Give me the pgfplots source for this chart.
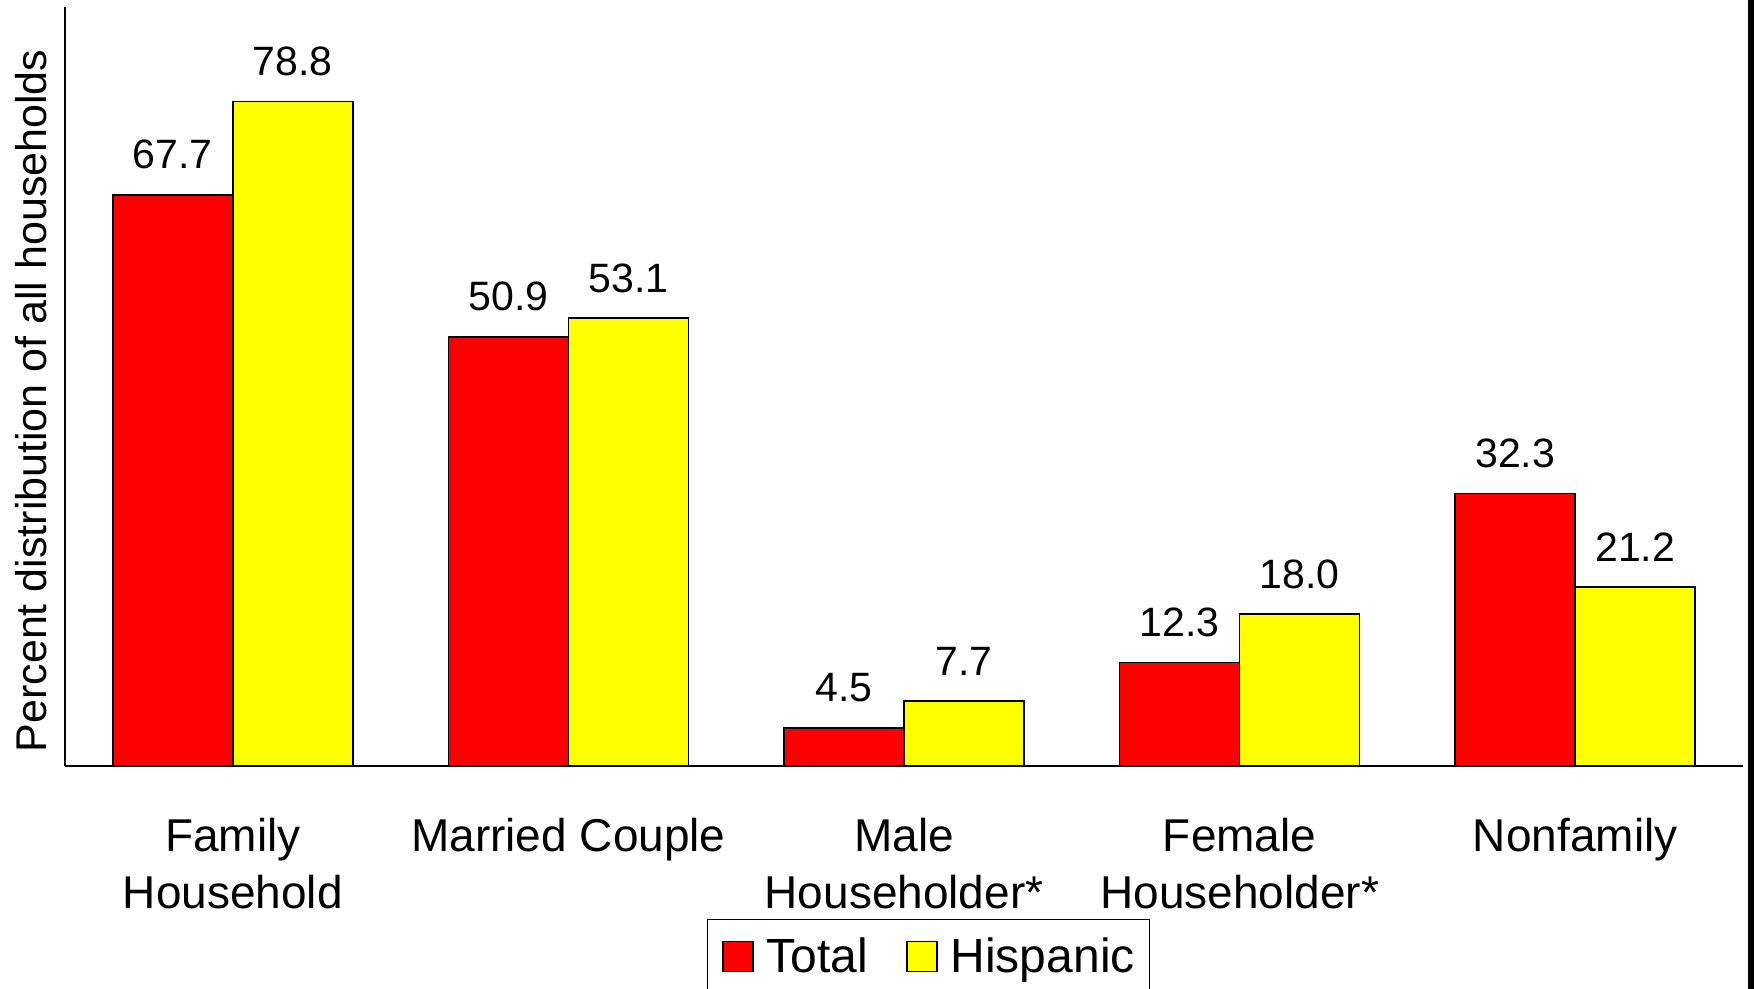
\documentclass[border=0pt]{standalone}
\usepackage{fontspec}
\setmainfont{Liberation Sans}
\usepackage{pgfplots}
\pgfplotsset{compat=1.18}
\definecolor{barred}{RGB}{255,0,0}
\definecolor{baryellow}{RGB}{255,255,0}
\begin{document}
\begin{tikzpicture}
\useasboundingbox (0,0) rectangle (877pt,-494.5pt);
\begin{axis}[
  at={(32.5pt,-383pt)}, anchor=south west,
  scale only axis, width=839pt, height=379.5pt,
  ybar=0pt, bar width=60pt,
  xmin=-0.5, xmax=4.5, ymin=0, ymax=90,
  axis x line=bottom, axis y line=left,
  axis line style={-, line width=1pt, black},
  xtick=data,
  xticklabels={Family\\Household, Married Couple, Male\\Householder*, Female\\Householder*, Nonfamily},
  ytick=\empty, major tick length=0pt,
  xticklabel style={align=center, inner sep=0pt, yshift=-26pt, font=\fontsize{23}{28.5}\selectfont},
  ylabel={Percent distribution of all households},
  ylabel style={at={(axis description cs:-0.01073,0.481)}, anchor=south, inner sep=0pt, font=\fontsize{21.5}{26}\selectfont},
  nodes near coords,
  nodes near coords style={font=\fontsize{20.5}{24}\selectfont, inner sep=0pt, yshift=12.5pt, text=black},
  /pgf/number format/fixed,
  /pgf/number format/fixed zerofill,
  /pgf/number format/precision=1,
  /pgf/number format/assume math mode=true,
  legend columns=2,
  legend style={at={(0.5146,-0.2016)}, anchor=north, draw=black, line width=0.5pt,
    font=\fontsize{24}{29}\selectfont, inner xsep=7.5pt, inner ysep=9pt,
    nodes={inner sep=0pt},
    /tikz/every odd column/.append style={column sep=6.5pt},
    /tikz/every even column/.append style={column sep=19pt}},
  legend image code/.code={\draw[#1, line width=0.75pt] (0pt,-7.5pt) rectangle (15pt,7.5pt);},
]
\addplot[fill=barred, draw=black, line width=0.75pt] coordinates {(0,67.7) (1,50.9) (2,4.5) (3,12.3) (4,32.3)};
\addplot[fill=baryellow, draw=black, line width=0.75pt] coordinates {(0,78.8) (1,53.1) (2,7.7) (3,18.0) (4,21.2)};
\legend{Total, Hispanic}
\end{axis}
\fill[black] (874pt,0pt) rectangle (877pt,-494.5pt);
\end{tikzpicture}
\end{document}
